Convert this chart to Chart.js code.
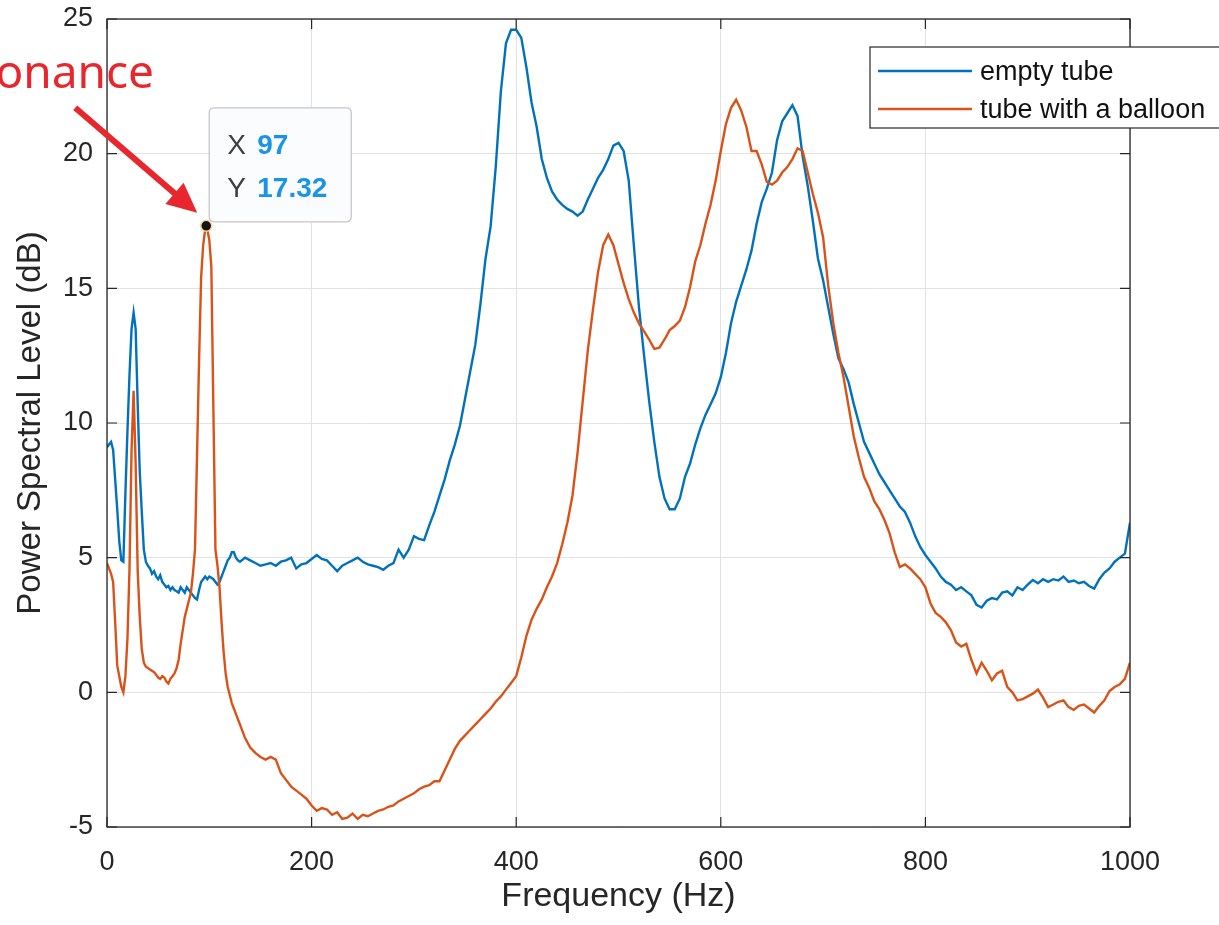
<!DOCTYPE html>
<html><head><meta charset="utf-8">
<script src="https://cdn.jsdelivr.net/npm/chart.js@4.4.0/dist/chart.umd.min.js"></script>
<style>html,body{margin:0;padding:0;background:#fff;overflow:hidden}canvas{display:block}</style>
</head><body>
<canvas id="c" width="1219" height="925"></canvas>
<script>
// ---- data ----
const freq = [
0,2,4,6,8,10,12,14,16,18,20,22,24,26,28,30,32,34,36,38,
40,42,44,46,48,50,52,54,56,58,60,62,64,66,68,70,72,74,76,78,
80,82,84,86,88,90,92,94,96,97,98,100,102,104,106,108,110,112,114,116,
118,120,122,124,126,128,130,
135,140,145,150,155,160,165,170,175,180,
185,190,195,200,205,210,215,220,225,230,
235,240,245,250,255,260,265,270,275,280,
285,290,295,300,305,310,315,320,325,330,
335,340,345,350,355,360,365,370,375,380,
385,390,395,400,405,410,415,420,425,430,
435,440,445,450,455,460,465,470,475,480,
485,490,495,500,505,510,515,520,525,530,
535,540,545,550,555,560,565,570,575,580,
585,590,595,600,605,610,615,620,625,630,
635,640,645,650,655,660,665,670,675,680,
685,690,695,700,705,710,715,720,725,730,
735,740,745,750,755,760,765,770,775,780,
785,790,795,800,805,810,815,820,825,830,
835,840,845,850,855,860,865,870,875,880,
885,890,895,900,905,910,915,920,925,930,
935,940,945,950,955,960,965,970,975,980,
985,990,995,1000];

const emptyTube = [
9.1,9.2,9.3,9.0,7.9,6.8,5.6,4.9,4.85,7.4,9.7,11.8,13.5,14.1,13.5,10.7,8.2,6.7,5.3,4.85,
4.7,4.6,4.4,4.5,4.3,4.2,4.35,4.1,4.0,3.9,3.95,3.8,3.9,3.8,3.75,3.7,3.9,3.8,3.7,3.9,
3.8,3.7,3.6,3.5,3.45,3.8,4.1,4.2,4.3,4.25,4.2,4.3,4.25,4.2,4.1,4.0,4.1,4.3,4.5,4.7,
4.9,5.0,5.2,5.2,5.0,4.9,4.85,
5.0,4.9,4.8,4.7,4.75,4.8,4.7,4.85,4.9,5.0,
4.6,4.75,4.8,4.95,5.1,4.95,4.9,4.7,4.5,4.7,
4.8,4.9,5.0,4.85,4.75,4.7,4.65,4.55,4.7,4.8,
5.3,5.0,5.3,5.8,5.7,5.65,6.2,6.7,7.3,7.9,
8.6,9.2,9.9,10.9,11.9,12.9,14.4,16.1,17.3,19.5,
22.3,24.1,24.6,24.6,24.3,23.2,21.9,21.0,19.8,19.1,
18.6,18.3,18.1,17.95,17.85,17.7,17.85,18.3,18.7,19.1,
19.4,19.8,20.3,20.4,20.1,19.0,16.6,14.3,12.5,10.8,
9.3,8.0,7.2,6.8,6.8,7.2,8.0,8.5,9.2,9.8,
10.3,10.7,11.1,11.7,12.6,13.7,14.5,15.1,15.7,16.4,
17.4,18.2,18.7,19.3,20.5,21.2,21.5,21.8,21.4,19.9,
18.8,17.5,16.1,15.3,14.3,13.3,12.4,12.0,11.5,10.7,
10.0,9.3,8.9,8.5,8.1,7.8,7.5,7.2,6.9,6.7,
6.3,5.8,5.4,5.1,4.85,4.6,4.3,4.1,4.0,3.8,
3.9,3.75,3.6,3.25,3.15,3.4,3.5,3.45,3.7,3.75,
3.6,3.9,3.8,4.0,4.17,4.05,4.2,4.1,4.2,4.15,
4.3,4.1,4.15,4.05,4.1,3.95,3.85,4.2,4.45,4.6,
4.85,5.0,5.15,6.3];

const balloonTube = [
4.8,4.6,4.4,4.1,2.6,1.0,0.6,0.2,0.0,0.6,2.0,4.6,9.0,11.2,8.5,4.5,2.8,1.6,1.1,0.95,
0.9,0.85,0.8,0.75,0.65,0.55,0.5,0.6,0.55,0.4,0.33,0.5,0.6,0.7,0.9,1.2,1.8,2.3,2.8,3.1,
3.4,3.7,4.4,5.3,8.8,12.3,15.4,16.6,17.2,17.32,17.2,16.8,15.8,10.5,5.3,4.7,3.9,2.6,1.5,0.7,
0.2,-0.1,-0.4,-0.6,-0.8,-1.0,-1.2,
-1.7,-2.05,-2.25,-2.4,-2.5,-2.4,-2.5,-3.0,-3.25,-3.5,
-3.65,-3.8,-3.95,-4.2,-4.4,-4.3,-4.35,-4.55,-4.45,-4.7,
-4.65,-4.5,-4.7,-4.55,-4.6,-4.5,-4.4,-4.35,-4.25,-4.2,
-4.05,-3.95,-3.85,-3.75,-3.6,-3.5,-3.45,-3.3,-3.3,-2.9,
-2.5,-2.1,-1.8,-1.6,-1.4,-1.2,-1.0,-0.8,-0.6,-0.35,
-0.15,0.1,0.35,0.6,1.3,2.1,2.7,3.1,3.45,3.9,
4.3,4.8,5.5,6.3,7.3,8.9,10.8,12.7,14.2,15.6,
16.6,17.0,16.6,15.9,15.2,14.6,14.1,13.7,13.4,13.1,
12.75,12.8,13.1,13.45,13.6,13.8,14.3,15.05,16.0,16.6,
17.4,18.1,19.0,20.1,21.1,21.7,22.0,21.6,21.0,20.1,
20.1,19.6,18.95,18.85,19.0,19.3,19.5,19.8,20.2,20.1,
19.3,18.5,17.8,16.9,15.1,13.7,12.6,11.7,10.6,9.5,
8.7,8.0,7.6,7.1,6.8,6.4,5.9,5.2,4.65,4.75,
4.6,4.4,4.2,3.9,3.3,2.95,2.8,2.6,2.3,1.85,
1.7,1.8,1.2,0.7,1.1,0.8,0.45,0.7,0.8,0.2,
0.0,-0.3,-0.25,-0.15,-0.05,0.1,-0.2,-0.55,-0.45,-0.35,
-0.3,-0.55,-0.65,-0.5,-0.45,-0.6,-0.75,-0.5,-0.3,0.05,
0.2,0.3,0.5,1.1];

const seriesLabels = ['empty tube', 'tube with a balloon'];
const seriesColors = ['#0072BD', '#D95319'];
const xRange = [0, 1000], xStep = 200;
const yRange = [-5, 25], yStep = 5;
const tipPoint = [97, 17.32];
const annotationText = 'Resonance';
const xTitle = 'Frequency (Hz)';
const yTitle = 'Power Spectral Level (dB)';

// ---- build ----
const toPts = arr => freq.map((f, i) => ({x: f, y: arr[i]}));
const FONT = '"Liberation Sans", Arial, Helvetica, sans-serif';
const AX = '#262626';

function roundRect(ctx, x, y, w, h, r) {
  ctx.beginPath();
  ctx.moveTo(x + r, y);
  ctx.lineTo(x + w - r, y); ctx.quadraticCurveTo(x + w, y, x + w, y + r);
  ctx.lineTo(x + w, y + h - r); ctx.quadraticCurveTo(x + w, y + h, x + w - r, y + h);
  ctx.lineTo(x + r, y + h); ctx.quadraticCurveTo(x, y + h, x, y + h - r);
  ctx.lineTo(x, y + r); ctx.quadraticCurveTo(x, y, x + r, y);
  ctx.closePath();
}

const overlay = {
  id: 'overlay',
  beforeDatasetsDraw(chart) {
    const ctx = chart.ctx, xs = chart.scales.x, ys = chart.scales.y;
    const px = xs.getPixelForValue(tipPoint[0]), py = ys.getPixelForValue(tipPoint[1]);
    const bx = px + 3, by = py - 118, bw = 142, bh = 114;
    ctx.save();
    roundRect(ctx, bx, by, bw, bh, 5);
    ctx.fillStyle = '#fafcfe'; ctx.fill();
    ctx.strokeStyle = '#c6c6c6'; ctx.lineWidth = 1.3; ctx.stroke();
    ctx.textBaseline = 'middle';
    ctx.font = '28px ' + FONT;
    ctx.fillStyle = '#404040';
    ctx.fillText('X', bx + 18, by + 38);
    ctx.fillText('Y', bx + 18, by + 81);
    ctx.font = 'bold 28px ' + FONT;
    ctx.fillStyle = '#1a94e6';
    ctx.fillText(String(tipPoint[0]), bx + 48, by + 38);
    ctx.fillText(tipPoint[1].toFixed(2), bx + 48, by + 81);
    ctx.restore();
  },
  afterDraw(chart) {
    const ctx = chart.ctx, xs = chart.scales.x, ys = chart.scales.y;
    const a = chart.chartArea;
    ctx.save();
    // box
    ctx.strokeStyle = AX; ctx.lineWidth = 1.3;
    ctx.strokeRect(a.left, a.top, a.right - a.left, a.bottom - a.top);
    // inward ticks
    ctx.lineWidth = 1.2;
    ctx.beginPath();
    xs.ticks.forEach(t => {
      const x = xs.getPixelForValue(t.value);
      ctx.moveTo(x, a.bottom); ctx.lineTo(x, a.bottom - 10);
      ctx.moveTo(x, a.top); ctx.lineTo(x, a.top + 10);
    });
    ys.ticks.forEach(t => {
      const y = ys.getPixelForValue(t.value);
      ctx.moveTo(a.left, y); ctx.lineTo(a.left + 10, y);
      ctx.moveTo(a.right, y); ctx.lineTo(a.right - 10, y);
    });
    ctx.stroke();

    // legend
    const lx = a.right - 260, ly = a.top + 28;
    ctx.fillStyle = '#ffffff';
    ctx.fillRect(lx, ly, 380, 81);
    ctx.strokeStyle = AX; ctx.lineWidth = 1.2;
    ctx.strokeRect(lx, ly, 380, 81);
    ctx.font = '27px ' + FONT;
    ctx.textBaseline = 'middle';
    seriesLabels.forEach((lab, i) => {
      const yy = ly + 24 + i * 38;
      ctx.strokeStyle = seriesColors[i]; ctx.lineWidth = 2.4;
      ctx.beginPath(); ctx.moveTo(lx + 8, yy); ctx.lineTo(lx + 102, yy); ctx.stroke();
      ctx.fillStyle = '#111111';
      ctx.fillText(lab, lx + 110, yy + 2);
    });

    // annotation arrow
    const px = xs.getPixelForValue(tipPoint[0]), py = ys.getPixelForValue(tipPoint[1]);
    const tx = px - 9, ty = py - 13;
    const sx = px - 131, sy = py - 118;
    const dx = tx - sx, dy = ty - sy, L = Math.hypot(dx, dy);
    const ux = dx / L, uy = dy / L;
    const hl = 30, hw = 14;
    const bxp = tx - ux * hl, byp = ty - uy * hl;
    ctx.strokeStyle = '#e8262e'; ctx.fillStyle = '#e8262e';
    ctx.lineWidth = 6; ctx.lineCap = 'butt';
    ctx.beginPath(); ctx.moveTo(sx, sy); ctx.lineTo(bxp + ux * 4, byp + uy * 4); ctx.stroke();
    ctx.beginPath();
    ctx.moveTo(tx, ty);
    ctx.lineTo(bxp - uy * hw, byp + ux * hw);
    ctx.lineTo(bxp + uy * hw, byp - ux * hw);
    ctx.closePath(); ctx.fill();
    // annotation text (clipped at the left edge like the original)
    ctx.font = '46px "Noto Sans", "DejaVu Sans", sans-serif';
    ctx.textAlign = 'right';
    ctx.textBaseline = 'alphabetic';
    ctx.fillText(annotationText, a.left + 47, a.top + 69);
    ctx.restore();
  }
};

new Chart(document.getElementById('c'), {
  type: 'line',
  data: {
    datasets: [
      { label: 'datatip', data: [{x: tipPoint[0], y: tipPoint[1]}], showLine: false,
        pointRadius: 5.5, pointBackgroundColor: '#151515', pointBorderColor: '#f3d7a6',
        pointBorderWidth: 1.5, order: 0 },
      { label: seriesLabels[1], data: toPts(balloonTube), borderColor: seriesColors[1],
        borderWidth: 2.4, pointRadius: 0, tension: 0, fill: false, order: 1 },
      { label: seriesLabels[0], data: toPts(emptyTube), borderColor: seriesColors[0],
        borderWidth: 2.4, pointRadius: 0, tension: 0, fill: false, order: 2 }
    ]
  },
  options: {
    responsive: false,
    animation: false,
    events: [],
    layout: { padding: { top: 19, right: 89, left: 0, bottom: 0 } },
    plugins: { legend: { display: false }, tooltip: { enabled: false } },
    scales: {
      x: {
        type: 'linear', min: xRange[0], max: xRange[1],
        ticks: { stepSize: xStep, padding: 19, color: AX, font: { size: 27, family: FONT }, maxRotation: 0,
                 callback: v => String(v) },
        grid: { color: '#e2e2e2', lineWidth: 1, drawTicks: false },
        border: { display: false },
        title: { display: true, text: xTitle, color: AX, font: { size: 34, family: FONT }, padding: { top: 0, bottom: 8 } },
        afterFit(s) { s.height = 98; s.paddingLeft = 0; }
      },
      y: {
        type: 'linear', min: yRange[0], max: yRange[1],
        ticks: { stepSize: yStep, padding: 14, color: AX, font: { size: 27, family: FONT },
                 callback: v => String(v) },
        grid: { color: '#e2e2e2', lineWidth: 1, drawTicks: false },
        border: { display: false },
        title: { display: true, text: yTitle, color: AX, font: { size: 33, family: FONT }, padding: { top: 11, bottom: 0 } },
        afterFit(s) { s.width = 107; s.paddingTop = 0; s.paddingBottom = 0; }
      }
    }
  },
  plugins: [overlay]
});
</script>
</body></html>
